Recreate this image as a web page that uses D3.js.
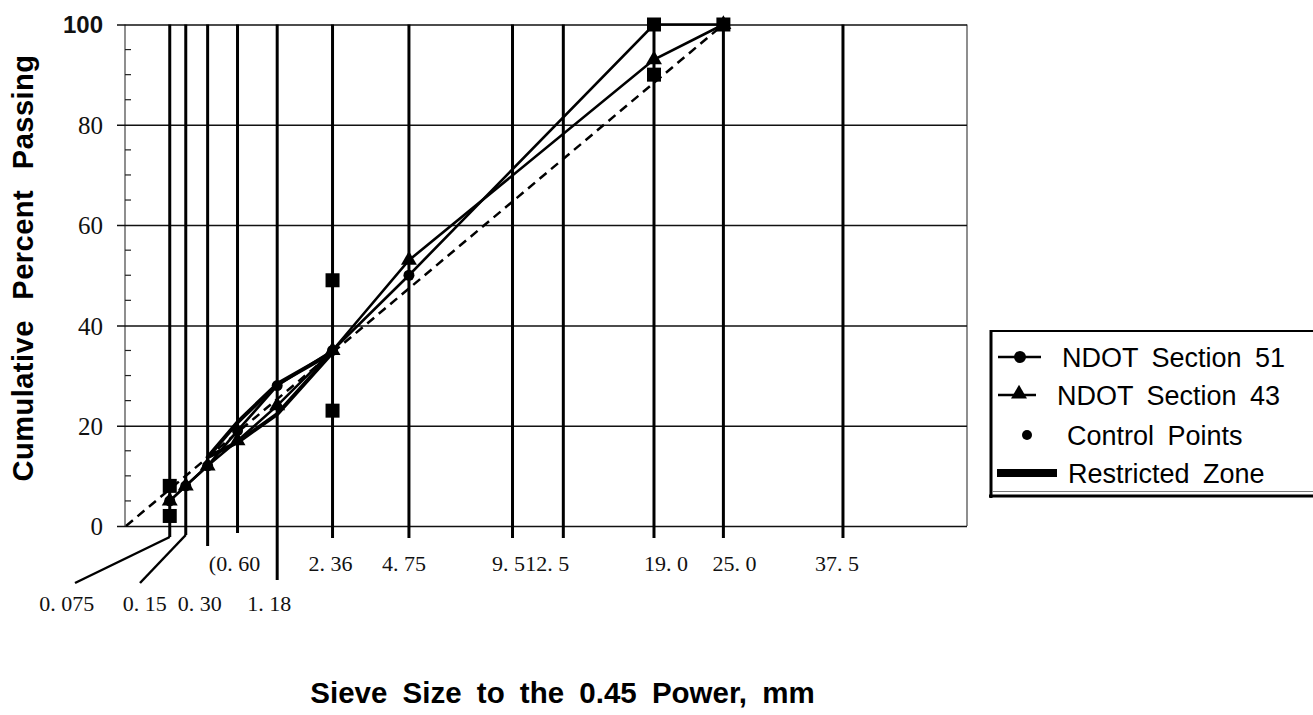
<!DOCTYPE html>
<html>
<head>
<meta charset="utf-8">
<script src="https://cdn.jsdelivr.net/npm/d3@7"></script>
<style>
  body { margin: 0; background: #fff; }
  svg { display: block; }
</style>
</head>
<body>
<svg id="chart" width="1313" height="715"></svg>
<script>
// Sieve sizes (mm) drawn as vertical lines, with their printed labels
const sieveSizes  = [0.075, 0.15, 0.30, 0.60, 1.18, 2.36, 4.75, 9.5, 12.5, 19.0, 25.0, 37.5];
const sieveLabels = ["0. 075", "0. 15", "0. 30", "(0. 60", "1. 18", "2. 36", "4. 75", "9. 5", "12. 5", "19. 0", "25. 0", "37. 5"];

// Gradations (percent passing) at the tested sieves
const gradSizes = [0.075, 0.15, 0.30, 0.60, 1.18, 2.36, 4.75, 19.0, 25.0];
const section51 = [5, 8, 12, 19, 28, 35, 50, 100, 100];
const section43 = [5, 8, 12, 17, 24, 35, 53, 93, 100];

// Superpave control points (19 mm nominal)
const controlSizes  = [0.075, 0.075, 2.36, 2.36, 19.0, 19.0, 25.0];
const controlValues = [2, 8, 23, 49, 90, 100, 100];

// Restricted zone boundaries
const zoneSizes = [0.30, 0.60, 1.18, 2.36];
const zoneLower = [13.7, 16.7, 22.3, 34.6];
const zoneUpper = [13.7, 20.7, 28.3, 34.6];

// Maximum density line (straight in 0.45-power space)
const maxDensitySizes  = [0, 25.0];
const maxDensityValues = [0, 100];

const yTicks = [0, 20, 40, 60, 80, 100];
const yMinor = [5, 10, 15, 25, 30, 35, 45, 50, 55, 65, 70, 75, 85, 90, 95];

const legendNames = ["NDOT Section 51", "NDOT Section 43", "Control Points", "Restricted Zone"];

// ---- layout ----
const plot = { left: 125, right: 967, top: 24.5, bottom: 526 };
const svg = d3.select("#chart");

const x = d3.scalePow().exponent(0.45).domain([0, 53.6]).range([plot.left + 1, plot.right + 1]);
const y = d3.scaleLinear().domain([0, 100]).range([plot.bottom, plot.top]);

const g = svg.append("g");

// frame sides
g.append("line").attr("x1", plot.left).attr("x2", plot.left)
  .attr("y1", plot.top).attr("y2", plot.bottom)
  .attr("stroke", "#444").attr("stroke-width", 1.2);
g.append("line").attr("x1", plot.right).attr("x2", plot.right)
  .attr("y1", plot.top).attr("y2", plot.bottom)
  .attr("stroke", "#444").attr("stroke-width", 1.2);

// y axis: horizontal gridlines with outer ticks, and labels
const yAxis = d3.axisLeft(y).tickValues(yTicks)
  .tickSize(-(plot.right - plot.left + 8))
  .tickPadding(14)
  .tickFormat(d3.format("d"));
const ya = g.append("g").attr("transform", `translate(${plot.right},0)`).call(yAxis);
ya.select(".domain").remove();
ya.selectAll(".tick line")
  .attr("x1", 0).attr("x2", -(plot.right - plot.left + 8))
  .attr("stroke", "#111").attr("stroke-width", 1.5);
ya.selectAll(".tick text")
  .attr("x", -(plot.right - 103)).attr("dy", "0.35em")
  .attr("text-anchor", "end")
  .attr("fill", "#111")
  .style("font-family", "'Liberation Serif', 'DejaVu Serif', serif")
  .style("font-size", "25px");
ya.selectAll(".tick text").filter(d => d === 100)
  .style("font-family", "'Liberation Sans', Arial, sans-serif")
  .style("font-weight", "bold")
  .style("font-size", "24px");

// minor ticks on the left axis
g.selectAll("line.minor").data(yMinor).enter().append("line")
  .attr("class", "minor")
  .attr("x1", plot.left).attr("x2", plot.left + 6)
  .attr("y1", d => y(d)).attr("y2", d => y(d))
  .attr("stroke", "#222").attr("stroke-width", 1.2);

// vertical sieve lines, extended a little below the plot
const lineEnds = { 0.075: 537, 0.15: 535, 0.30: 546, 0.60: 533, 1.18: 580 };
g.selectAll("line.sieve").data(sieveSizes).enter().append("line")
  .attr("class", "sieve")
  .attr("x1", d => x(d)).attr("x2", d => x(d))
  .attr("y1", plot.top).attr("y2", d => lineEnds[d] || 538)
  .attr("stroke", "#000").attr("stroke-width", 3);

// leader lines for the two finest sieves
const leaders = [
  { size: 0.075, to: [75, 583], from: 537 },
  { size: 0.15, to: [140, 583], from: 535 }
];
g.selectAll("path.leader").data(leaders).enter().append("path")
  .attr("class", "leader")
  .attr("d", d => `M${x(d.size)},${d.from}L${d.to[0]},${d.to[1]}`)
  .attr("stroke", "#000").attr("stroke-width", 2.5).attr("fill", "none");

// x tick labels in two rows
const labelRow = { 0.075: 2, 0.15: 2, 0.30: 2, 1.18: 2 };
const labelShift = { 0.075: -103, 0.15: -41, 0.30: -8, 0.60: -3, 1.18: -8, 2.36: -2, 4.75: -5,
                     9.5: -4, 12.5: -16, 19.0: 12, 25.0: 11, 37.5: -6 };
g.selectAll("text.xl").data(sieveSizes).enter().append("text")
  .attr("class", "xl")
  .attr("x", d => x(d) + (labelShift[d] || 0))
  .attr("y", d => labelRow[d] === 2 ? 611 : 571)
  .attr("text-anchor", "middle")
  .style("font-family", "'Liberation Serif', 'DejaVu Serif', serif")
  .style("font-size", "22px")
  .attr("fill", "#111")
  .text((d, i) => sieveLabels[i]);

// maximum density line
const line = d3.line().x(d => x(d[0])).y(d => y(d[1]));
g.append("path")
  .attr("d", line(maxDensitySizes.map((s, i) => [s, maxDensityValues[i]])))
  .attr("fill", "none").attr("stroke", "#000").attr("stroke-width", 2.5)
  .attr("stroke-dasharray", "9,6");

// restricted zone outline
const zonePts = zoneSizes.map((s, i) => [s, zoneUpper[i]])
  .concat(zoneSizes.slice().reverse().map((s, i) => [s, zoneLower[zoneSizes.length - 1 - i]]));
g.append("path")
  .attr("d", line(zonePts) + "Z")
  .attr("fill", "none").attr("stroke", "#000").attr("stroke-width", 4)
  .attr("stroke-linejoin", "round");

// gradation lines
[section51, section43].forEach(vals => {
  g.append("path")
    .attr("d", line(gradSizes.map((s, i) => [s, vals[i]])))
    .attr("fill", "none").attr("stroke", "#000").attr("stroke-width", 2.6);
});

// markers
g.selectAll("circle.s51").data(gradSizes).enter().append("circle")
  .attr("cx", d => x(d)).attr("cy", (d, i) => y(section51[i])).attr("r", 5.5).attr("fill", "#000");
const tri = d3.symbol().type(d3.symbolTriangle).size(110);
g.selectAll("path.s43").data(gradSizes).enter().append("path")
  .attr("d", tri)
  .attr("transform", (d, i) => `translate(${x(d)},${y(section43[i])})`).attr("fill", "#000");
g.selectAll("rect.cp").data(controlSizes).enter().append("rect")
  .attr("x", d => x(d) - 7).attr("y", (d, i) => y(controlValues[i]) - 7)
  .attr("width", 14).attr("height", 14).attr("fill", "#000");

// axis titles
svg.append("text")
  .attr("transform", "translate(33,268) rotate(-90)")
  .attr("text-anchor", "middle")
  .style("font-family", "'Liberation Sans', Arial, sans-serif")
  .style("font-weight", "bold").style("font-size", "29px")
  .style("word-spacing", "12px")
  .style("letter-spacing", "0.5px")
  .text("Cumulative Percent Passing");
svg.append("text")
  .attr("x", 562.5).attr("y", 703)
  .attr("text-anchor", "middle")
  .style("font-family", "'Liberation Sans', Arial, sans-serif")
  .style("font-weight", "bold").style("font-size", "29.5px")
  .style("word-spacing", "7px")
  .text("Sieve Size to the 0.45 Power, mm");

// legend
const lg = svg.append("g");
lg.append("line").attr("x1", 991).attr("x2", 1320).attr("y1", 331).attr("y2", 331)
  .attr("stroke", "#000").attr("stroke-width", 2);
lg.append("line").attr("x1", 991).attr("x2", 991).attr("y1", 330).attr("y2", 498)
  .attr("stroke", "#000").attr("stroke-width", 3);
lg.append("line").attr("x1", 989).attr("x2", 1320).attr("y1", 496).attr("y2", 496)
  .attr("stroke", "#000").attr("stroke-width", 3);
lg.append("line").attr("x1", 992).attr("x2", 1320).attr("y1", 491.5).attr("y2", 491.5)
  .attr("stroke", "#777").attr("stroke-width", 1);

const rowY = [357, 395, 435, 473];
const textX = [1062, 1057, 1067, 1068];
// symbols
lg.append("line").attr("x1", 998).attr("x2", 1041).attr("y1", rowY[0]).attr("y2", rowY[0])
  .attr("stroke", "#000").attr("stroke-width", 2.6);
lg.append("circle").attr("cx", 1020).attr("cy", rowY[0]).attr("r", 6).attr("fill", "#000");
lg.append("line").attr("x1", 998).attr("x2", 1036).attr("y1", rowY[1]).attr("y2", rowY[1])
  .attr("stroke", "#000").attr("stroke-width", 2.6);
lg.append("path").attr("d", tri).attr("transform", `translate(1019,${rowY[1] - 1})`).attr("fill", "#000");
lg.append("circle").attr("cx", 1027).attr("cy", rowY[2]).attr("r", 5).attr("fill", "#000");
lg.append("line").attr("x1", 997).attr("x2", 1057).attr("y1", rowY[3]).attr("y2", rowY[3])
  .attr("stroke", "#000").attr("stroke-width", 8);
lg.selectAll("text").data(legendNames).enter().append("text")
  .attr("x", (d, i) => textX[i]).attr("y", (d, i) => rowY[i] + 10)
  .style("font-family", "'Liberation Sans', Arial, sans-serif")
  .style("font-size", "27px").style("word-spacing", "6px")
  .attr("fill", "#000")
  .text(d => d);
</script>
</body>
</html>
